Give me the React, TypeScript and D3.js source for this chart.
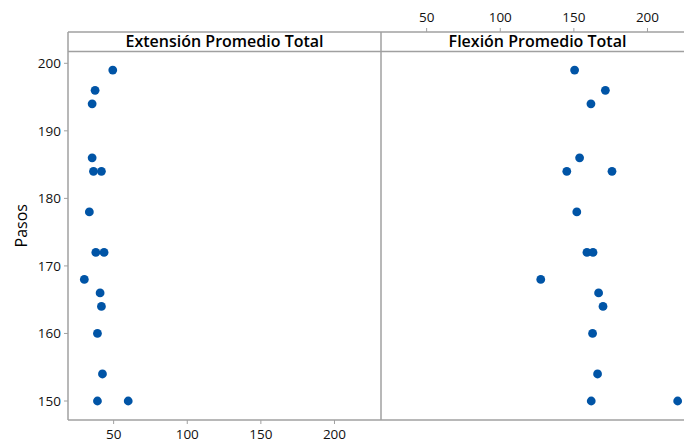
import React from "react";
import * as d3 from "d3";

const pasos = [199, 196, 194, 186, 184, 184, 178, 172, 172, 168, 166, 164, 160, 154, 150, 150];
const extension = [49.4, 37.4, 35.4, 35.4, 36.3, 41.7, 33.5, 37.9, 43.5, 30.1, 40.8, 41.7, 39.0, 42.4, 39.0, 59.9];
const flexion = [150.5, 171.4, 161.6, 153.9, 145.2, 175.9, 152.0, 158.9, 163.0, 127.5, 166.8, 169.8, 162.7, 166.1, 161.8, 220.5];
const panelTitles = ["Extensión Promedio Total", "Flexión Promedio Total"];
const xTicks = [50, 100, 150, 200];
const yTicks = [150, 160, 170, 180, 190, 200];
const yLabel = "Pasos";

const W = 684;
const H = 443;
const FONT = "'Open Sans', 'Noto Sans', sans-serif";
const GRID = "#a0a0a0";
const DOT = "#0054a6";

export default function App() {
  const left = 68;
  const panelW = 313;
  const top = 32;
  const headerB = 51.5;
  const bottom = 420;
  const x = d3.scaleLinear().domain([19, 231.6]).range([0, panelW]);
  const y = d3.scaleLinear().domain([150, 200]).range([401, 63.3]);
  const series = [extension, flexion];
  const rightEdge = left + 2 * panelW;

  return (
    <svg width={W} height={H} style={{ position: "fixed", left: 0, top: 0, background: "#fff" }} fontFamily={FONT}>
      <line x1={left} x2={rightEdge} y1={top} y2={top} stroke={GRID} strokeWidth={1.5} />
      <line x1={left} x2={rightEdge} y1={headerB} y2={headerB} stroke={GRID} strokeWidth={1.5} />
      <line x1={left} x2={rightEdge} y1={bottom} y2={bottom} stroke={GRID} strokeWidth={1.5} />
      <line x1={left} x2={left} y1={top} y2={bottom} stroke={GRID} strokeWidth={1.5} />
      <line x1={left + panelW} x2={left + panelW} y1={top} y2={bottom} stroke={GRID} strokeWidth={1.5} />

      {yTicks.map((t) => (
        <g key={t}>
          <line x1={left - 4} x2={left} y1={y(t)} y2={y(t)} stroke={GRID} strokeWidth={1} />
          <text x={left - 7} y={y(t)} dy="0.35em" textAnchor="end" fontSize={13.5} fontWeight={500} fill="#111">
            {t}
          </text>
        </g>
      ))}
      <text
        transform={`translate(21,${(headerB + bottom) / 2 - 10}) rotate(-90)`}
        textAnchor="middle"
        dy="0.35em"
        fontSize={16}
        fontWeight={500}
        fill="#000"
      >
        {yLabel}
      </text>

      {xTicks.map((t) => (
        <g key={"b" + t}>
          <line x1={left + x(t)} x2={left + x(t)} y1={bottom} y2={bottom + 4} stroke={GRID} strokeWidth={1} />
          <text x={left + x(t)} y={bottom + 19} textAnchor="middle" fontSize={13.5} fontWeight={500} fill="#111">
            {t}
          </text>
        </g>
      ))}
      {xTicks.map((t) => (
        <g key={"t" + t}>
          <line x1={left + panelW + x(t)} x2={left + panelW + x(t)} y1={top} y2={top - 4} stroke={GRID} strokeWidth={1} />
          <text x={left + panelW + x(t)} y={top - 10} textAnchor="middle" fontSize={13.5} fontWeight={500} fill="#111">
            {t}
          </text>
        </g>
      ))}

      {panelTitles.map((title, i) => (
        <text
          key={title}
          x={left + i * panelW + panelW / 2}
          y={(top + headerB) / 2}
          dy="0.35em"
          textAnchor="middle"
          fontSize={16}
          fontWeight={600}
          fill="#000"
        >
          {title}
        </text>
      ))}

      {series.map((vals, i) =>
        vals.map((v, j) => (
          <circle key={i + "-" + j} cx={left + i * panelW + x(v)} cy={y(pasos[j])} r={4.4} fill={DOT} />
        ))
      )}
    </svg>
  );
}
